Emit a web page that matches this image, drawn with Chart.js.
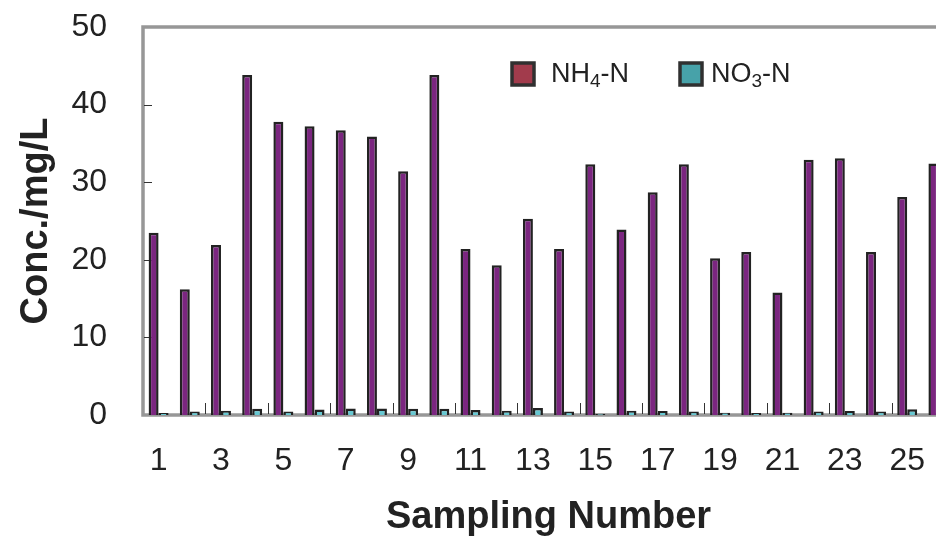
<!DOCTYPE html>
<html><head><meta charset="utf-8">
<script src="https://cdn.jsdelivr.net/npm/chart.js@4.4.0/dist/chart.umd.min.js"></script>
<style>
html,body{margin:0;padding:0;background:#fff;overflow:hidden;width:936px;height:536px;}
#wrap{position:absolute;left:0;top:0;width:966px;height:536px;}
</style></head><body>
<div id="wrap"><canvas id="c"></canvas></div>
<script>
const categories = ['1','2','3','4','5','6','7','8','9','10','11','12','13','14','15','16','17','18','19','20','21','22','23','24','25','26'];
const nh4Values = [23.5, 16.2, 21.9, 43.8, 37.8, 37.2, 36.7, 35.9, 31.4, 43.8, 21.4, 19.3, 25.3, 21.4, 32.3, 23.9, 28.7, 32.3, 20.2, 21.0, 15.8, 32.9, 33.1, 21.0, 28.1, 32.4];
const no3Values = [0.25, 0.45, 0.55, 0.8, 0.45, 0.7, 0.85, 0.85, 0.8, 0.8, 0.65, 0.55, 0.9, 0.45, 0.15, 0.55, 0.5, 0.45, 0.3, 0.25, 0.3, 0.45, 0.5, 0.45, 0.75, 0.5];
const seriesNames = ['NH\u2084-N', 'NO\u2083-N'];
const yTickValues = [0, 10, 20, 30, 40, 50];
const xTitle = 'Sampling Number';
const yTitle = 'Conc./mg/L';

const FONT = "'Liberation Sans', Arial, Helvetica, sans-serif";
const TEXT = '#222222';
const barColors = ['#7b2680', '#66c8d2'];
const legendColors = ['#a23b4c', '#47a2a9'];

const framePlugin = {
  id: 'frame',
  beforeDatasetsDraw(chart) {
    const {ctx, chartArea: {left, top, right, bottom}, scales: {x, y}} = chart;
    ctx.save();
    ctx.strokeStyle = '#979797';
    ctx.lineWidth = 3.5;
    ctx.strokeRect(left, top, right - left, bottom - top);
    ctx.strokeStyle = '#333';
    ctx.lineWidth = 1;
    yTickValues.slice(1, -1).forEach(v => {
      const py = Math.round(y.getPixelForValue(v)) + 0.5;
      ctx.beginPath(); ctx.moveTo(left + 1, py); ctx.lineTo(left + 9, py); ctx.stroke();
    });
    for (let i = 1; i < categories.length - 1; i += 2) {
      const px = Math.round((x.getPixelForValue(i) + x.getPixelForValue(i + 1)) / 2) + 0.5;
      ctx.beginPath(); ctx.moveTo(px, bottom - 1); ctx.lineTo(px, bottom - 12); ctx.stroke();
    }
    ctx.restore();
  }
};

function drawRich(ctx, text, x, baseY, size) {
  const subs = '\u2080\u2081\u2082\u2083\u2084\u2085\u2086\u2087\u2088\u2089';
  for (const ch of text) {
    const k = subs.indexOf(ch);
    if (k >= 0) {
      const s = Math.round(size * 0.72);
      ctx.font = s + 'px ' + FONT;
      ctx.fillText(String(k), x, baseY + size * 0.2);
      x += ctx.measureText(String(k)).width;
    } else {
      ctx.font = size + 'px ' + FONT;
      ctx.fillText(ch, x, baseY);
      x += ctx.measureText(ch).width;
    }
  }
}

const legendPlugin = {
  id: 'insideLegend',
  afterDraw(chart) {
    const {ctx} = chart;
    const boxX = [512, 680], textX = [551, 711];
    ctx.save();
    ctx.textBaseline = 'alphabetic';
    ctx.textAlign = 'left';
    seriesNames.forEach((name, i) => {
      ctx.fillStyle = legendColors[i];
      ctx.fillRect(boxX[i], 63, 22, 22);
      ctx.strokeStyle = '#303030';
      ctx.lineWidth = 3.5;
      ctx.strokeRect(boxX[i], 63, 22, 22);
      ctx.fillStyle = TEXT;
      drawRich(ctx, name, textX[i], 82, 27);
    });
    ctx.restore();
  }
};

new Chart(document.getElementById('c'), {
  type: 'bar',
  data: {
    labels: categories,
    datasets: [
      {label: seriesNames[0], data: nh4Values, backgroundColor: barColors[0], borderColor: '#222222', borderWidth: 2.5, categoryPercentage: 0.64, barPercentage: 1},
      {label: seriesNames[1], data: no3Values, backgroundColor: barColors[1], borderColor: '#222222', borderWidth: 2.5, categoryPercentage: 0.64, barPercentage: 1}
    ]
  },
  options: {
    responsive: true,
    maintainAspectRatio: false,
    animation: false,
    layout: {padding: {top: 27, right: 12, left: 0, bottom: 0}},
    plugins: {legend: {display: false}, tooltip: {enabled: false}},
    scales: {
      x: {
        offset: true,
        grid: {display: false, drawTicks: false},
        border: {display: false},
        ticks: {autoSkip: false, maxRotation: 0, padding: 27, color: TEXT, font: {family: FONT, size: 32},
          callback: (v, i) => (i % 2 === 0 ? categories[i] : '')},
        title: {display: true, text: xTitle, color: TEXT, font: {family: FONT, size: 38, weight: 'bold'}, padding: {top: 0, bottom: -4}},
        afterFit: s => { s.height = 121; s.paddingLeft = 0; s.paddingRight = 0; }
      },
      y: {
        min: 0, max: 50,
        grid: {display: false, drawTicks: false},
        border: {display: false},
        ticks: {stepSize: 10, padding: 36, color: TEXT, font: {family: FONT, size: 32}},
        title: {display: true, text: yTitle, color: TEXT, font: {family: FONT, size: 38, weight: 'bold'}, padding: {top: 14, bottom: 0}},
        afterFit: s => { s.width = 143; s.paddingTop = 0; s.paddingBottom = 0; }
      }
    }
  },
  plugins: [framePlugin, legendPlugin]
});
</script>
</body></html>
